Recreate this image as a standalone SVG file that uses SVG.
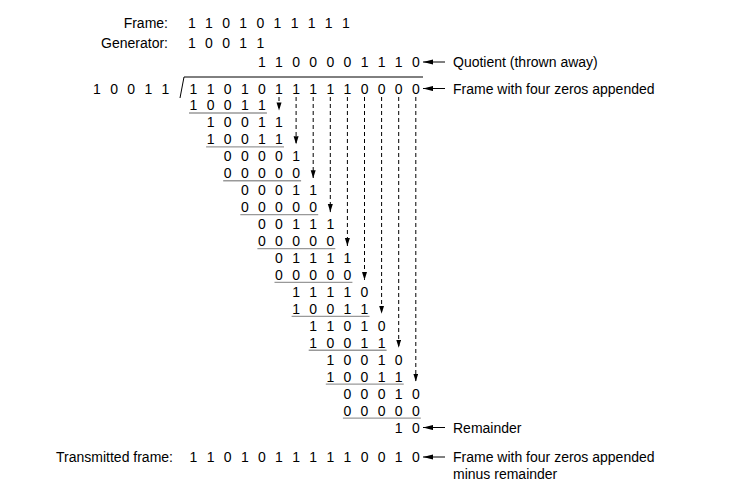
<svg xmlns="http://www.w3.org/2000/svg" width="737" height="497" viewBox="0 0 737 497">
<style>
text{font-family:"Liberation Sans",Arial,sans-serif;font-size:14px;fill:#000}
.d{letter-spacing:2.715px}
.r{text-anchor:end}
.ul{stroke:#999;stroke-width:1.3;fill:none}
.dash{stroke:#000;stroke-width:1;stroke-dasharray:4 3;fill:none}
.arr{stroke:#000;stroke-width:1;fill:none}
</style>
<defs>
<marker id="vh" markerUnits="userSpaceOnUse" markerWidth="9" markerHeight="6" refX="8" refY="2.5" orient="auto"><path d="M0,0 L8,2.5 L0,5 z" fill="#000"/></marker>
<marker id="hh" markerUnits="userSpaceOnUse" markerWidth="11" markerHeight="6" refX="10" refY="2.6" orient="auto"><path d="M0,0 L10,2.6 L0,5.2 z" fill="#000"/></marker>
</defs>
<rect width="737" height="497" fill="#fff"/>
<g id="header">
<text class="r" x="168" y="28">Frame:</text>
<text class="d" x="188" y="28">1 1 0 1 0 1 1 1 1 1</text>
<text class="r" x="168" y="48">Generator:</text>
<text class="d" x="188" y="48">1 0 0 1 1</text>
</g>
<g id="division">
<text class="d" x="93.1" y="93.5">1 0 0 1 1</text>
<text class="d" x="258" y="67">1 1 0 0 0 0 1 1 1 0</text>
<path class="arr" d="M180,98 L184,77 L423,77"/>
<text class="d" x="189.6" y="93.5">1 1 0 1 0 1 1 1 1 1 0 0 0 0</text>
<text class="d" x="189.6" y="110.45">1 0 0 1 1</text>
<text class="d" x="206.7" y="127.4">1 0 0 1 1</text>
<text class="d" x="206.7" y="144.35">1 0 0 1 1</text>
<text class="d" x="223.8" y="161.3">0 0 0 0 1</text>
<text class="d" x="223.8" y="178.25">0 0 0 0 0</text>
<text class="d" x="240.9" y="195.2">0 0 0 1 1</text>
<text class="d" x="240.9" y="212.15">0 0 0 0 0</text>
<text class="d" x="258" y="229.1">0 0 1 1 1</text>
<text class="d" x="258" y="246.05">0 0 0 0 0</text>
<text class="d" x="275.1" y="263">0 1 1 1 1</text>
<text class="d" x="275.1" y="279.95">0 0 0 0 0</text>
<text class="d" x="292.2" y="296.9">1 1 1 1 0</text>
<text class="d" x="292.2" y="313.85">1 0 0 1 1</text>
<text class="d" x="309.3" y="330.8">1 1 0 1 0</text>
<text class="d" x="309.3" y="347.75">1 0 0 1 1</text>
<text class="d" x="326.4" y="364.7">1 0 0 1 0</text>
<text class="d" x="326.4" y="381.65">1 0 0 1 1</text>
<text class="d" x="343.5" y="398.6">0 0 0 1 0</text>
<text class="d" x="343.5" y="415.55">0 0 0 0 0</text>
<text class="d" x="394.8" y="432.5">1 0</text>
</g>
<g id="underlines">
<line class="ul" x1="189" y1="113" x2="266.9" y2="113"/>
<line class="ul" x1="206.1" y1="146.85" x2="284" y2="146.85"/>
<line class="ul" x1="223.2" y1="180.75" x2="301.1" y2="180.75"/>
<line class="ul" x1="240.3" y1="214.65" x2="318.2" y2="214.65"/>
<line class="ul" x1="257.4" y1="248.55" x2="335.3" y2="248.55"/>
<line class="ul" x1="274.5" y1="282.45" x2="352.4" y2="282.45"/>
<line class="ul" x1="291.6" y1="316.35" x2="369.5" y2="316.35"/>
<line class="ul" x1="308.7" y1="350.25" x2="386.6" y2="350.25"/>
<line class="ul" x1="325.8" y1="384.15" x2="403.7" y2="384.15"/>
<line class="ul" x1="342.9" y1="418.05" x2="420.8" y2="418.05"/>
</g>
<g id="connectors">
<line class="dash" x1="279" y1="97" x2="279" y2="110.4" marker-end="url(#vh)"/>
<line class="dash" x1="296.1" y1="97" x2="296.1" y2="144.3" marker-end="url(#vh)"/>
<line class="dash" x1="313.2" y1="97" x2="313.2" y2="178.2" marker-end="url(#vh)"/>
<line class="dash" x1="330.3" y1="97" x2="330.3" y2="212.1" marker-end="url(#vh)"/>
<line class="dash" x1="347.4" y1="97" x2="347.4" y2="246" marker-end="url(#vh)"/>
<line class="dash" x1="364.5" y1="97" x2="364.5" y2="279.9" marker-end="url(#vh)"/>
<line class="dash" x1="381.6" y1="97" x2="381.6" y2="313.8" marker-end="url(#vh)"/>
<line class="dash" x1="398.7" y1="97" x2="398.7" y2="347.7" marker-end="url(#vh)"/>
<line class="dash" x1="415.8" y1="97" x2="415.8" y2="381.6" marker-end="url(#vh)"/>
<line class="arr" x1="445" y1="62" x2="423" y2="62" marker-end="url(#hh)"/>
<line class="arr" x1="445" y1="88.5" x2="423" y2="88.5" marker-end="url(#hh)"/>
<line class="arr" x1="445" y1="427.5" x2="423" y2="427.5" marker-end="url(#hh)"/>
<line class="arr" x1="445" y1="457" x2="423" y2="457" marker-end="url(#hh)"/>
</g>
<g id="labels">
<text x="453" y="67">Quotient (thrown away)</text>
<text x="453" y="93.5">Frame with four zeros appended</text>
<text x="453" y="432.5">Remainder</text>
<text x="453" y="462">Frame with four zeros appended</text>
<text x="453" y="479">minus remainder</text>
</g>
<g id="transmitted">
<text class="r" x="173" y="462">Transmitted frame:</text>
<text class="d" x="189.6" y="462">1 1 0 1 0 1 1 1 1 1 0 0 1 0</text>
</g>
</svg>
